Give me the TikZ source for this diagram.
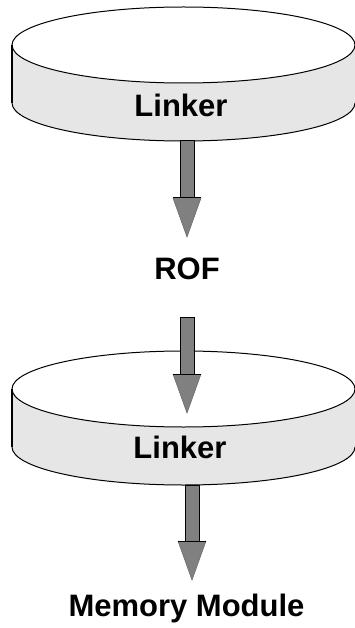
\documentclass[tikz,border=0pt]{standalone}
\usepackage{fontspec}
\setmainfont{Liberation Sans}
\usetikzlibrary{calc}
\definecolor{sidegray}{HTML}{E6E6E6}
\definecolor{arrowgray}{HTML}{808080}
\tikzset{
  lbl/.style={font=\fontsize{31}{37}\selectfont\bfseries, anchor=base, inner sep=0pt},
  rim/.style={draw=black, line width=1pt},
}
% block arrow from #1 (tail) to #2 (tip)
\newcommand\blockarrow[2]{%
  \draw[fill=arrowgray, draw=black, line width=1pt]
    ($(#1)+(-7,0)$) rectangle ($(#2)+(7,39)$);
  \fill[arrowgray] ($(#2)+(-14,39)$) -- ($(#2)+(14,39)$) -- (#2) -- cycle;
  \draw[arrowgray!85!black, line width=0.6pt]
    ($(#2)+(-14,39)$) -- (#2) -- ($(#2)+(14,39)$);
  \draw[black, line width=1pt] ($(#2)+(-14,39)$) -- ($(#2)+(14,39)$);
}
% disc-shaped cylinder: centre x, top centre y, bottom centre y
\newcommand\disc[3]{%
  \fill[sidegray] ({#1-171.5},#2) -- ({#1-171.5},#3)
    arc[start angle=180, end angle=360, x radius=171.5, y radius=38]
    -- ({#1+171.5},#2) -- cycle;
  \draw[rim] ({#1-171.5},#3)
    arc[start angle=180, end angle=360, x radius=171.5, y radius=38];
  \draw[rim, fill=white] (#1,#2) ellipse[x radius=171.5, y radius=38];
  \draw[black, line width=1.6pt] ({#1-171.5},#2) -- ({#1-171.5},#3);
}
\begin{document}
\begin{tikzpicture}[x=1pt, y=1pt]
  \fill[white] (0,0) rectangle (354,-628);
  \useasboundingbox (0,0) rectangle (354,-628);

  % first linker stage
  \disc{183.5}{-45}{-103}
  \node[lbl] (linker1) at (181,-117) {Linker};
  \coordinate (a1s) at (187,-141);
  \coordinate (a1e) at (187,-237);
  \blockarrow{a1s}{a1e}

  \node[lbl] (rof) at (187,-279) {ROF};

  % second linker stage
  \disc{183.5}{-389}{-447}
  \node[lbl] (linker2) at (180,-458) {Linker};
  \coordinate (a2s) at (187,-317);
  \coordinate (a2e) at (187,-413);
  \blockarrow{a2s}{a2e}

  \coordinate (a3s) at (192,-485);
  \coordinate (a3e) at (192,-580);
  \blockarrow{a3s}{a3e}

  \node[lbl] (mem) at (186.5,-616) {Memory Module};
\end{tikzpicture}
\end{document}
